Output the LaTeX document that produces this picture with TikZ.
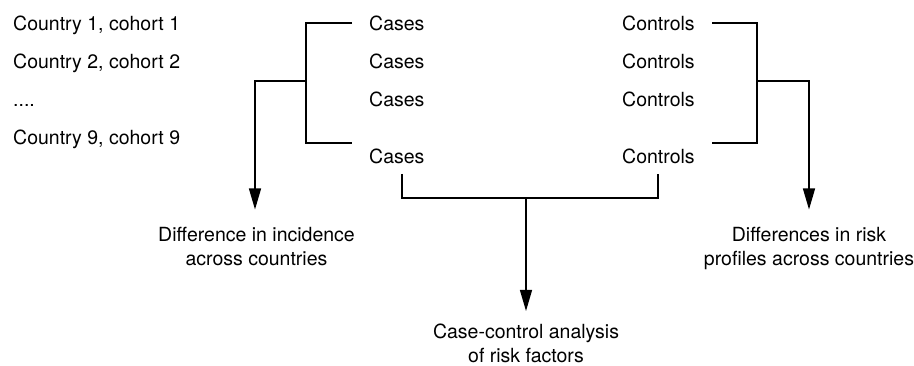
\documentclass[tikz,border=0pt]{standalone}
\usepackage{fontspec}
\setmainfont{TeX Gyre Heros}
\usetikzlibrary{arrows.meta}
\begin{document}
\begin{tikzpicture}[x=1pt,y=-1pt,
  lbl/.style={inner sep=0pt,font=\fontsize{19.5}{24}\selectfont},
  multi/.style={lbl,align=center,anchor=base},
  conn/.style={line width=1.3pt},
  arr/.style={conn,-{Triangle[length=21pt,width=12pt]}}]
\useasboundingbox (0,0) rectangle (914,366);
% left column
\node[lbl,anchor=base west] (r1) at (13,31) {Country 1, cohort 1};
\node[lbl,anchor=base west] (r2) at (13,69) {Country 2, cohort 2};
\node[lbl,anchor=base west] (r3) at (13,107) {....};
\node[lbl,anchor=base west] (r4) at (13,145) {Country 9, cohort 9};
% cases
\node[lbl,anchor=base west] (ca1) at (369,31) {Cases};
\node[lbl,anchor=base west] (ca2) at (369,69) {Cases};
\node[lbl,anchor=base west] (ca3) at (369,107) {Cases};
\node[lbl,anchor=base west] (ca4) at (369,164) {Cases};
% controls
\node[lbl,anchor=base west] (co1) at (622,31) {Controls};
\node[lbl,anchor=base west] (co2) at (622,69) {Controls};
\node[lbl,anchor=base west] (co3) at (622,107) {Controls};
\node[lbl,anchor=base west] (co4) at (622,164) {Controls};
% outcomes (base anchor = last line's baseline)
\node[multi] (inc) at (256.5,265.5) {Difference in incidence\\across countries};
\node[multi] (risk) at (809,265.5) {Differences in risk\\profiles across countries};
\node[multi] (cc) at (526,362.5) {Case-control analysis\\of risk factors};
% bracket coordinates
\coordinate (lt) at (352,23);
\coordinate (lb) at (352,143);
\coordinate (ls) at (306,81);
\coordinate (rt) at (712,23);
\coordinate (rb) at (712,143);
\coordinate (rs) at (757,81);
\coordinate (bl) at (402,174);
\coordinate (br) at (658,174);
\coordinate (bs) at (526,198);
\coordinate (incTip) at (255,209.5);
\coordinate (riskTip) at (809,209.5);
\coordinate (ccTip) at (526,311);
% left bracket
\draw[conn] (lt) -- (lt -| ls) -- (lb -| ls) -- (lb);
\draw[arr] (ls) -| (incTip);
% right bracket
\draw[conn] (rt) -- (rt -| rs) -- (rb -| rs) -- (rb);
\draw[arr] (rs) -| (riskTip);
% bottom bracket
\draw[conn] (bl) -- (bl |- bs) -- (br |- bs) -- (br);
\draw[arr] (bs) -- (ccTip);
\end{tikzpicture}
\end{document}
